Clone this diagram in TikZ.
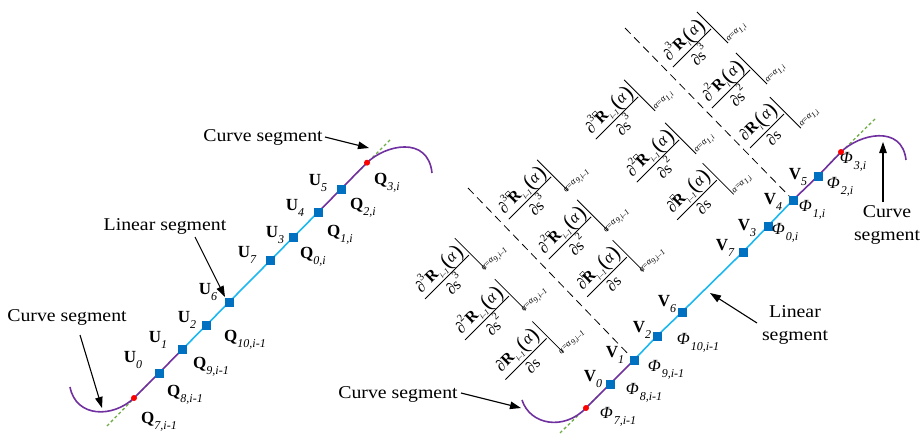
\documentclass[tikz,border=0pt]{standalone}
\usepackage{graphicx}
\usepackage{fontspec}
\setmainfont{Liberation Serif}
\newfontfamily\lab[FakeStretch=1.1]{Liberation Serif}
\usetikzlibrary{arrows.meta}
\definecolor{cpur}{HTML}{7030A0}
\definecolor{clb}{HTML}{1EB8F0}
\definecolor{csq}{HTML}{0070C0}
\definecolor{cgr}{HTML}{70AD47}
\newcommand{\lsub}[1]{\raisebox{-0.32em}{\fontsize{12}{12}\selectfont\itshape #1}}
\newcommand{\Ub}[1]{\textbf{U}\lsub{#1}}
\newcommand{\Qb}[1]{\textbf{Q}\lsub{#1}}
\newcommand{\Vb}[1]{\textbf{V}\lsub{#1}}
\newcommand{\Ph}[1]{\textit{Φ}\kern1pt\lsub{#1}}
% pieces of the derivative expressions
\newcommand{\fsup}[1]{\raisebox{0.55em}{\fontsize{10.5}{10.5}\selectfont #1}}
\newcommand{\fsb}[1]{\raisebox{-0.3em}{\fontsize{8}{8}\selectfont\itshape #1}}
\newcommand{\pa}[1]{{\fontsize{22}{22}\selectfont\raisebox{-0.1em}{(}}\textit{#1}{\fontsize{22}{22}\selectfont\raisebox{-0.1em}{)}}}
\newcommand{\Ri}{\textbf{R}\fsb{i}}
\newcommand{\Rim}{\textbf{R}\fsb{i–1}}
\newcommand{\Rbx}{\rlap{\raisebox{0.6em}{\kern1pt\fboxsep=0pt\fboxrule=0.35pt\fbox{\rule{0pt}{4pt}\kern4pt}}}\textbf{R}\fsb{i–1}}
% local (lx,ly) of a 45-degree rotated frame centred at (X,Y); page y runs down
\newcommand{\pX}[3]{#1+0.7071*((#2)+(#3))}
\newcommand{\pY}[3]{#1+0.7071*((#3)-(#2))}
% #1 name, #2 X, #3 Y, #4 order, #5 R term, #6 subscript, #7 half bar
\newcommand{\deriv}[7]{%
\coordinate (#1a) at ({\pX{#2}{-#7}{0}},{\pY{#3}{-#7}{0}});
\coordinate (#1b) at ({\pX{#2}{#7}{0}},{\pY{#3}{#7}{0}});
\coordinate (#1c) at ({\pX{#2}{#7+2}{-22}},{\pY{#3}{#7+2}{-22}});
\coordinate (#1e) at ({\pX{#2}{#7+2}{22}},{\pY{#3}{#7+2}{22}});
\draw[fline] (#1a) -- (#1b);
\draw[fline] (#1c) -- (#1e);
\node[fnum] (#1n) at ({\pX{#2}{0}{-11}},{\pY{#3}{0}{-11}}) {∂\fsup{#4}#5\pa{α}};
\node[fnum] (#1d) at ({\pX{#2}{0}{9}},{\pY{#3}{0}{9}}) {∂s\fsup{#4}};
\node[fsubn] (#1s) at ({\pX{#2}{#7+15}{21.5}},{\pY{#3}{#7+15}{21.5}}) {\textit{α}=\textit{α}\fsb{#6}};
}
\begin{document}
\begin{tikzpicture}[x=1pt,y=-1pt,
  pur/.style={draw=cpur,line width=1.6pt},
  lbl/.style={draw=clb,line width=1.6pt},
  grn/.style={draw=cgr,line width=1.3pt,dash pattern=on 3pt off 2.5pt},
  dsh/.style={draw=black,line width=0.8pt,dash pattern=on 8pt off 5pt},
  sq/.style={fill=csq,minimum size=9pt,inner sep=0pt,draw=none},
  rdot/.style={circle,fill=red,minimum size=6pt,inner sep=0pt},
  lab/.style={font=\fontsize{17}{17}\selectfont,inner sep=0pt},
  seg/.style={font=\lab\fontsize{18}{23}\selectfont,align=center,inner sep=0pt},
  arr/.style={-{Triangle[length=11pt,width=7.5pt]},line width=1.1pt},
  fnum/.style={rotate=45,inner sep=0pt,font=\fontsize{16}{16}\selectfont},
  fsubn/.style={rotate=45,inner sep=0pt,font=\fontsize{9}{9}\selectfont},
  fline/.style={draw=black,line width=0.8pt}]
\useasboundingbox (0,0) rectangle (924,434);
% ---------- left diagram ----------
\coordinate (lc0) at (70,387);
\coordinate (lr0) at (134,398);
\coordinate (u0) at (159,373);
\coordinate (u1) at (182,349.7);
\coordinate (u2) at (206,325.5);
\coordinate (u6) at (229,302.2);
\coordinate (u7) at (270,260.8);
\coordinate (u3) at (293,237.5);
\coordinate (u4) at (318,212.3);
\coordinate (u5) at (341,189);
\coordinate (lr1) at (367,162.7);
\coordinate (lc1) at (432,173);
\coordinate (lg0) at (107,426);
\coordinate (lg1) at (150,382);
\coordinate (lg2) at (390,140);
\coordinate (lg3) at (355,175);
\draw[grn] (lg0) -- (lg1);
\draw[grn] (lg2) -- (lg3);
\draw[pur] (lc0) .. controls (76,418) and (113,418) .. (lr0) -- (u0) -- (u1);
\draw[lbl] (u1) -- (u2) -- (u6) -- (u7) -- (u3) -- (u4);
\draw[pur] (u4) -- (u5) -- (lr1) .. controls (385,145) and (428,135) .. (lc1);
\foreach \p in {u0,u1,u2,u6,u7,u3,u4,u5} \node[sq] (s\p) at (\p) {};
\node[rdot] (rl0) at (lr0) {};
\node[rdot] (rl1) at (lr1) {};
\node[lab] (tu0) at (133,360) {\Ub{0}};
\node[lab] (tu1) at (158,340) {\Ub{1}};
\node[lab] (tu2) at (187,320) {\Ub{2}};
\node[lab] (tu6) at (208,292) {\Ub{6}};
\node[lab] (tu7) at (247,255) {\Ub{7}};
\node[lab] (tu3) at (275,235) {\Ub{3}};
\node[lab] (tu4) at (295,208) {\Ub{4}};
\node[lab] (tu5) at (318,183) {\Ub{5}};
\node[lab] (tq7) at (159,422) {\Qb{7,i-1}};
\node[lab] (tq8) at (185,395) {\Qb{8,i-1}};
\node[lab] (tq9) at (211,367) {\Qb{9,i-1}};
\node[lab] (tq10) at (245,340) {\Qb{10,i-1}};
\node[lab] (tq0) at (313,257) {\Qb{0,i}};
\node[lab] (tq1) at (340,235) {\Qb{1,i}};
\node[lab] (tq2) at (363,208) {\Qb{2,i}};
\node[lab] (tq3) at (387,183) {\Qb{3,i}};
\node[seg] (t1) at (263,137) {Curve segment};
\node[seg] (t2) at (165,226) {Linear segment};
\node[seg] (t3) at (67,317) {Curve segment};
\coordinate (a1s) at (325,137); \coordinate (a1e) at (369,148);
\coordinate (a2s) at (195,237); \coordinate (a2e) at (225,297);
\coordinate (a3s) at (80,335);  \coordinate (a3e) at (102,408);
\draw[arr] (a1s) -- (a1e);
\draw[arr] (a2s) -- (a2e);
\draw[arr] (a3s) -- (a3e);
% ---------- right diagram ----------
\coordinate (rc0) at (522,400);
\coordinate (rr0) at (586,408);
\coordinate (v0) at (610,384);
\coordinate (v1) at (634,360);
\coordinate (v2) at (657,336);
\coordinate (v6) at (682,312);
\coordinate (v7) at (743,252);
\coordinate (v3) at (768,226);
\coordinate (v4) at (793,200);
\coordinate (v5) at (818,176);
\coordinate (rr1) at (841,152);
\coordinate (rc1) at (906,160);
\coordinate (rg0) at (560,433);
\coordinate (rg1) at (600,394);
\coordinate (rg2) at (875,119);
\coordinate (rg3) at (830,163);
\coordinate (d1) at (625,28);
\coordinate (d2) at (468,188);
\draw[dsh] (d1) -- (v4);
\draw[dsh] (d2) -- (v1);
\draw[grn] (rg0) -- (rg1);
\draw[grn] (rg2) -- (rg3);
\draw[pur] (rc0) .. controls (530,425) and (564,431) .. (rr0) -- (v0) -- (v1);
\draw[lbl] (v1) -- (v2) -- (v6) -- (v7) -- (v3) -- (v4);
\draw[pur] (v4) -- (v5) -- (rr1) .. controls (859,134) and (902,124) .. (rc1);
\foreach \p in {v0,v1,v2,v6,v7,v3,v4,v5} \node[sq] (s\p) at (\p) {};
\node[rdot] (rx0) at (rr0) {};
\node[rdot] (rx1) at (rr1) {};
\node[lab] (tv0) at (593,379) {\Vb{0}};
\node[lab] (tv1) at (615,355) {\Vb{1}};
\node[lab] (tv2) at (642,330) {\Vb{2}};
\node[lab] (tv6) at (667,304) {\Vb{6}};
\node[lab] (tv7) at (725,248) {\Vb{7}};
\node[lab] (tv3) at (747,228) {\Vb{3}};
\node[lab] (tv4) at (773,202) {\Vb{4}};
\node[lab] (tv5) at (798,177) {\Vb{5}};
\node[lab] (tp7) at (618,417) {\Ph{7,i-1}};
\node[lab] (tp8) at (644,393) {\Ph{8,i-1}};
\node[lab] (tp9) at (666,370) {\Ph{9,i-1}};
\node[lab] (tp10) at (698,343) {\Ph{10,i-1}};
\node[lab] (tp0) at (785,233) {\Ph{0,i}};
\node[lab] (tp1) at (812,210) {\Ph{1,i}};
\node[lab] (tp2) at (840,187) {\Ph{2,i}};
\node[lab] (tp3) at (853,162) {\Ph{3,i}};
\node[seg] (t4) at (398,394) {Curve segment};
\node[seg] (t5) at (795,325) {Linear\\segment};
\node[seg] (t6) at (887,225) {Curve\\segment};
\coordinate (a4s) at (461,393); \coordinate (a4e) at (521,408);
\coordinate (a5s) at (757,323); \coordinate (a5e) at (710,293);
\coordinate (a6s) at (883,202); \coordinate (a6e) at (883,142);
\draw[arr] (a4s) -- (a4e);
\draw[arr] (a5s) -- (a5e);
\draw[arr] (a6s) -- (a6e);
% ---------- derivative conditions ----------
\deriv{fa3}{692}{48}{3}{\Ri}{1,i}{27}
\deriv{fa2}{731}{89}{2}{\Ri}{1,i}{27}
\deriv{fa1}{767}{131}{}{\Ri}{1,i}{24}
\deriv{fb3}{617}{118}{3}{\Rbx}{1,i}{30}
\deriv{fb2}{658}{161}{2}{\Rbx}{1,i}{30}
\deriv{fb1}{697}{200}{}{\Rbx}{1,i}{28}
\deriv{fd3}{530}{198}{3}{\Rbx}{9,i–1}{30}
\deriv{fd2}{570}{238}{2}{\Rbx}{9,i–1}{30}
\deriv{fd1}{607}{277}{}{\Rbx}{9,i–1}{28}
\deriv{fc3}{447}{277}{3}{\Rim}{9,i–1}{31}
\deriv{fc2}{487}{318}{2}{\Rim}{9,i–1}{31}
\deriv{fc1}{526}{359}{}{\Rim}{9,i–1}{29}
\end{tikzpicture}
\end{document}
